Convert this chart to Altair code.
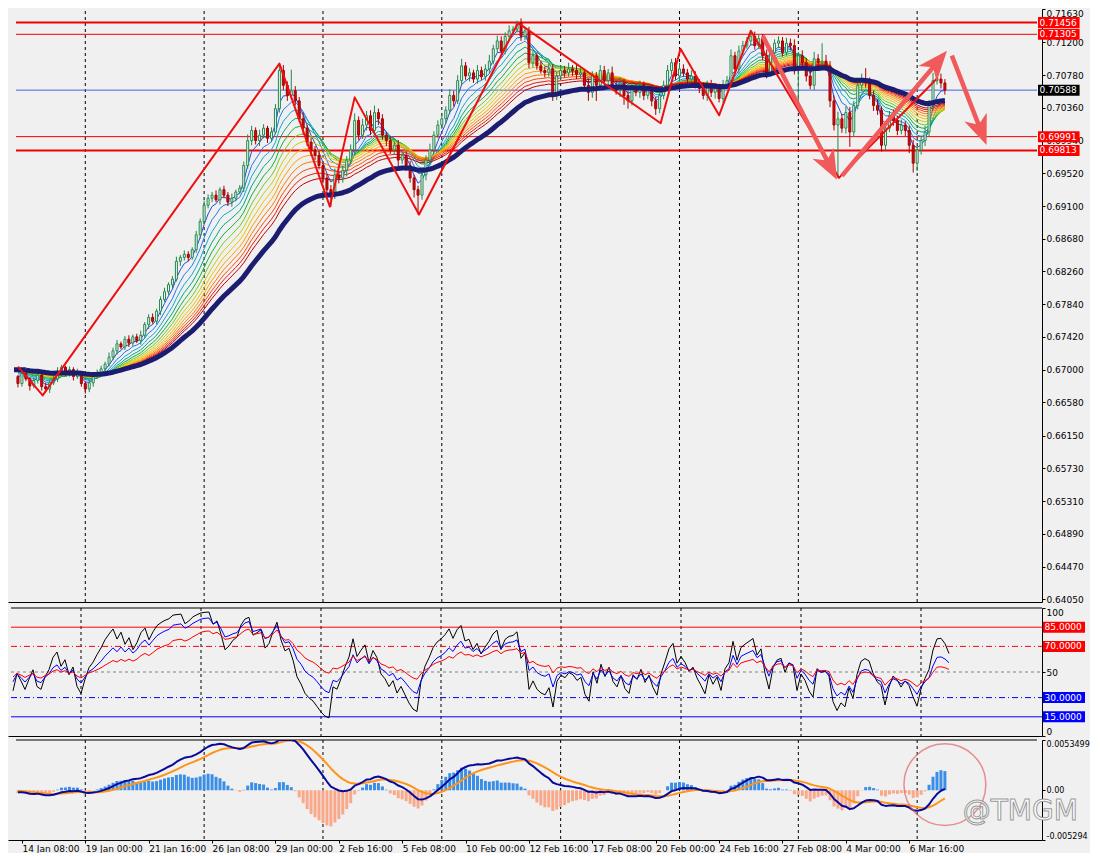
import json
import math
import pandas as pd
import altair as alt

# ---------------- data ----------------
closes = [
    0.6701, 0.6691, 0.6682, 0.6695, 0.6688, 0.6679, 0.6686, 0.6693, 0.6678, 0.6675,
    0.6683, 0.6688, 0.6698, 0.6703, 0.6695, 0.6700, 0.6691, 0.6696, 0.6682, 0.6675,
    0.6683, 0.6691, 0.6695, 0.6701, 0.6707, 0.6716, 0.6724, 0.6733, 0.6729, 0.6739,
    0.6734, 0.6742, 0.6737, 0.6744, 0.6758, 0.6767, 0.6762, 0.6775, 0.6790, 0.6800,
    0.6809, 0.6816, 0.6839, 0.6844, 0.6848, 0.6844, 0.6854, 0.6873, 0.6890, 0.6911,
    0.6920, 0.6924, 0.6918, 0.6931, 0.6924, 0.6915, 0.6920, 0.6928, 0.6933, 0.6962,
    0.6994, 0.7007, 0.6994, 0.7001, 0.7010, 0.6997, 0.7005, 0.7035, 0.7084, 0.7065,
    0.7052, 0.7058, 0.7045, 0.7022, 0.7010, 0.6992, 0.6982, 0.6975, 0.6962, 0.6946,
    0.6931, 0.6924, 0.6950, 0.6946, 0.6956, 0.6969, 0.6982, 0.7020, 0.7001, 0.7014,
    0.7026, 0.7007, 0.7030, 0.7022, 0.7001, 0.6994, 0.6982, 0.6988, 0.6969, 0.6975,
    0.6962, 0.6946, 0.6931, 0.6924, 0.6950, 0.6969, 0.6982, 0.7001, 0.7014, 0.7022,
    0.7033, 0.7052, 0.7045, 0.7071, 0.7090, 0.7077, 0.7081, 0.7073, 0.7084, 0.7076,
    0.7086, 0.7096, 0.7112, 0.7122, 0.7109, 0.7128, 0.7135, 0.7137, 0.7145, 0.7128,
    0.7135, 0.7094, 0.7103, 0.7090, 0.7084, 0.7081, 0.7086, 0.7052, 0.7077, 0.7084,
    0.7081, 0.7086, 0.7084, 0.7079, 0.7081, 0.7065, 0.7056, 0.7077, 0.7065, 0.7084,
    0.7071, 0.7081, 0.7065, 0.7058, 0.7068, 0.7052, 0.7045, 0.7061, 0.7056, 0.7065,
    0.7052, 0.7058, 0.7045, 0.7035, 0.7052, 0.7065, 0.7084, 0.7094, 0.7077, 0.7086,
    0.7081, 0.7073, 0.7077, 0.7068, 0.7061, 0.7052, 0.7065, 0.7056, 0.7061, 0.7048,
    0.7065, 0.7071, 0.7103, 0.7086, 0.7109, 0.7116, 0.7122, 0.7128, 0.7116, 0.7125,
    0.7103, 0.7081, 0.7107, 0.7119, 0.7122, 0.7107, 0.7119, 0.7116, 0.7084, 0.7103,
    0.7094, 0.7077, 0.7065, 0.7099, 0.7094, 0.7096, 0.7090, 0.7045, 0.7014, 0.7022,
    0.7010, 0.7030, 0.7005, 0.7039, 0.7065, 0.7071, 0.7068, 0.7052, 0.7039, 0.7033,
    0.6988, 0.7010, 0.7026, 0.7020, 0.7007, 0.7014, 0.7007, 0.6988, 0.6965, 0.6982,
    0.6994, 0.7005, 0.7039, 0.7071, 0.7073, 0.7068, 0.7059,
]
first_open = 0.6695

upper_wick_pips = [
    3, 4, 2, 5, 3, 2, 4, 3, 2, 5,
    3, 4, 5, 3, 2, 4, 3, 5, 2, 3,
    4, 3, 5, 4, 3, 6, 4, 5, 3, 4,
    5, 3, 4, 6, 3, 4, 5, 3, 4, 5,
    3, 4, 6, 3, 5, 4, 3, 5, 4, 6,
    5, 4, 6, 3, 5, 4, 6, 3, 4, 5,
    8, 6, 4, 7, 5, 3, 6, 6, 9, 7,
    5, 27, 6, 5, 8, 4, 6, 5, 7, 4,
    5, 6, 8, 4, 6, 5, 7, 9, 5, 8,
    6, 7, 9, 5, 6, 4, 6, 5, 7, 4,
    5, 6, 4, 5, 7, 6, 8, 5, 6, 7,
    5, 8, 6, 7, 9, 5, 6, 4, 7, 5,
    6, 8, 5, 7, 6, 5, 7, 4, 3, 6,
    5, 5, 7, 4, 6, 5, 8, 6, 5, 7,
    6, 8, 5, 7, 6, 5, 9, 6, 5, 7,
    6, 5, 8, 6, 7, 5, 6, 7, 5, 6,
    5, 7, 6, 5, 8, 6, 7, 5, 6, 8,
    6, 5, 7, 6, 5, 8, 6, 7, 5, 6,
    7, 6, 8, 5, 7, 6, 5, 7, 6, 5,
    6, 8, 7, 5, 6, 5, 7, 6, 8, 5,
    7, 6, 8, 9, 6, 23, 8, 6, 7, 9,
    6, 8, 7, 6, 5, 9, 16, 7, 6, 8,
    5, 7, 6, 8, 6, 7, 5, 6, 7, 5,
    6, 8, 7, 10, 8, 7, 5,
]
lower_wick_pips = [
    4, 3, 5, 4, 3, 6, 3, 4, 5, 4,
    5, 3, 4, 6, 3, 4, 5, 3, 4, 6,
    4, 5, 3, 4, 6, 3, 4, 5, 3, 4,
    5, 4, 3, 5, 4, 6, 3, 4, 5, 3,
    4, 5, 3, 6, 4, 5, 3, 4, 5, 3,
    4, 5, 3, 6, 4, 5, 6, 4, 3, 5,
    4, 6, 5, 7, 4, 6, 5, 3, 5, 6,
    7, 5, 6, 4, 8, 5, 7, 6, 5, 7,
    6, 15, 5, 7, 6, 8, 5, 7, 6, 5,
    7, 6, 5, 8, 6, 7, 5, 6, 8, 5,
    7, 6, 10, 25, 6, 7, 5, 6, 4, 5,
    6, 5, 7, 4, 6, 5, 7, 5, 6, 4,
    5, 6, 4, 5, 7, 4, 6, 5, 4, 6,
    5, 7, 6, 5, 4, 6, 5, 7, 6, 5,
    6, 5, 7, 6, 5, 6, 11, 7, 20, 6,
    5, 7, 6, 5, 8, 12, 10, 6, 5, 7,
    6, 5, 7, 8, 6, 5, 4, 6, 5, 7,
    5, 6, 4, 7, 6, 5, 7, 6, 8, 5,
    6, 5, 7, 4, 6, 5, 4, 6, 5, 4,
    6, 7, 5, 4, 6, 5, 4, 6, 5, 48,
    6, 7, 5, 6, 5, 4, 6, 8, 7, 68,
    6, 7, 19, 6, 5, 7, 6, 5, 7, 6,
    8, 6, 5, 7, 6, 5, 7, 10, 12, 10,
    6, 7, 5, 6, 5, 7, 6,
]
assert len(closes) == len(upper_wick_pips) == len(lower_wick_pips) == 237

x_label_bars = [3, 19, 35, 51, 67, 83, 99, 115, 131, 147, 163, 179, 195, 211, 227]
x_labels = ["14 Jan 08:00", "19 Jan 00:00", "21 Jan 16:00", "26 Jan 08:00", "29 Jan 00:00",
            "2 Feb 16:00", "5 Feb 08:00", "10 Feb 00:00", "12 Feb 16:00", "17 Feb 08:00",
            "20 Feb 00:00", "24 Feb 16:00", "27 Feb 08:00", "4 Mar 00:00", "6 Mar 16:00"]
week_separator_bars = [19, 49, 79, 109, 139, 169, 199, 229]

price_ticks = [0.71630, 0.71200, 0.70780, 0.70360, 0.69940, 0.69520, 0.69100, 0.68680,
               0.68260, 0.67840, 0.67420, 0.67000, 0.66580, 0.66150, 0.65730, 0.65310,
               0.64890, 0.64470, 0.64050]
red_levels = [0.71456, 0.71305, 0.69991, 0.69813]
bid_price = 0.70588
main_tag_values = [0.71456, 0.71305, 0.70588, 0.69991, 0.69813]

zigzag_bars = [2.0, 8.25, 68, 80.75, 87, 103.25, 128.25, 164.25, 169.25, 179, 187, 209.25, 234.25]
zigzag_prices = [0.67038, 0.66668, 0.70928, 0.69092, 0.70495, 0.68990, 0.71451, 0.70163,
                 0.71120, 0.70265, 0.71349, 0.69462, 0.70750]

arrow_tail_bars = [190.0, 210.0, 237.75]
arrow_tail_prices = [0.71286, 0.69487, 0.71031]
arrow_tip_bars = [208.75, 236.5, 246.5]
arrow_tip_prices = [0.69436, 0.71094, 0.69883]

ribbon_periods = [4, 7, 10, 13, 16, 19, 22, 25, 28, 31, 34, 37, 40]
navy_period = 50
rsi_periods = [6, 12, 24]
rsi_levels = [85, 70, 50, 30, 15]
rsi_tag_values = [85, 70, 30, 15]

macd_axis_values = [-0.005294, 0.0, 0.0053499]
macd_axis_labels = ["-0.005294", "0.00", "0.0053499"]
circle_bar = [236]
circle_value = [0.0006]
watermark_bar = [240.5]
watermark_value = [-0.00234]
watermark_text = ["@TMGM"]

# ---------------- styles ----------------
FONT = "DejaVu Sans"
BG = "#F0F0F0"
RED = "#F00000"
BULL_FILL, BULL_LINE = "#F4F4F4", "#1F8A4C"
BEAR_FILL, BEAR_LINE = "#C41010", "#A80000"
RIBBON_COLORS = ["#2848E0", "#1E78F0", "#10A8D0", "#00A878", "#10B030", "#70C820",
                 "#C8D000", "#F0C000", "#FFA000", "#FF7800", "#FF4A00", "#E81A10", "#C00000"]
NAVY = "#1C1C70"
NAVY_WIDTH = 5
ARROW_COLOR = "#F05A5A"
ARROW_PATH = "M0,-1L0.8,1L0,0.45L-0.8,1Z"
red_level_widths = [2, 1, 1, 2]
main_tag_colors = ["#FF0000", "#FF0000", "#000000", "#FF0000", "#FF0000"]
rsi_tag_colors = ["#FF0000", "#FF0000", "#0000FF", "#0000FF"]
rsi_level_styles = [("#FF0000", []), ("#FF0000", [6, 3, 1, 3]), ("#808080", [3, 3]),
                    ("#0000FF", [6, 3, 1, 3]), ("#0000FF", [])]
RSI_COLORS = ["#000000", "#0000FF", "#FF0000"]

X_DOMAIN = [0.75, 259.25]
PX_PER_BAR = 4.0
W = int(round((X_DOMAIN[1] - X_DOMAIN[0]) * PX_PER_BAR))
H_MAIN, H_RSI, H_MACD = 593, 128, 100
MAIN_DOMAIN = [0.64015, 0.7163]
RSI_DOMAIN = [0, 100]
MACD_DOMAIN = [-0.005294, 0.0053499]
PX_PER_PRICE = H_MAIN / (MAIN_DOMAIN[1] - MAIN_DOMAIN[0])
TAG_X1, TAG_X2, TAG_TX = 259.5, 270.0, 259.9
FIRST_SHOWN = 2
NAVY_LINE_FROM = 4
RULE_X1 = X_DOMAIN[0] + 0.75          # keep full-width rules inside the plot box

# ---------------- derived tables ----------------
n = len(closes)
bars = list(range(n))
opens = [first_open] + closes[:-1]
rows = []
for i in range(n):
    o, c = opens[i], closes[i]
    rows.append(dict(bar=i, low=min(o, c) - lower_wick_pips[i] * 0.0001,
                     high=max(o, c) + upper_wick_pips[i] * 0.0001,
                     body_lo=min(o, c), body_hi=max(o, c),
                     kind="bull" if c >= o else "bear"))
candles = pd.DataFrame(rows)
candles = candles[candles["bar"] >= FIRST_SHOWN]
bull = candles[candles["kind"] == "bull"]
bear = candles[candles["kind"] == "bear"]

s = pd.Series(closes, dtype=float)
ema = {p: s.ewm(span=p, adjust=False).mean() for p in ribbon_periods + [navy_period, 12, 26]}


def wilder_rsi(values, period, seed=0.0005):
    ag = al = seed
    out = [50.0]
    for k in range(1, len(values)):
        d = values[k] - values[k - 1]
        ag = (ag * (period - 1) + max(d, 0.0)) / period
        al = (al * (period - 1) + max(-d, 0.0)) / period
        out.append(100.0 * ag / (ag + al))
    return out


def shown(df, first=FIRST_SHOWN):
    return df[df["bar"] >= first]


dif = ema[12] - ema[26]
dea = dif.ewm(span=9, adjust=False).mean()
hist_vals = 2 * (dif - dea)
macd_df = shown(pd.DataFrame({"bar": bars, "dif": dif.values, "dea": dea.values, "hv": hist_vals.values}))

arrow_rows, head_rows = [], []
HEAD = 30.0
for k in range(len(arrow_tail_bars)):
    tb, tp = arrow_tail_bars[k], arrow_tail_prices[k]
    hb, hp = arrow_tip_bars[k], arrow_tip_prices[k]
    dx = (hb - tb) * PX_PER_BAR
    dy = -(hp - tp) * PX_PER_PRICE
    L = math.hypot(dx, dy)
    ux, uy = dx / L, dy / L
    cb = hb - ux * HEAD / 2 / PX_PER_BAR
    cp = hp + uy * HEAD / 2 / PX_PER_PRICE
    ang = math.degrees(math.atan2(dx, -dy)) % 360
    arrow_rows += [dict(arrow=k, order=0, bar=tb, price=tp), dict(arrow=k, order=1, bar=cb, price=cp)]
    head_rows.append(dict(bar=cb, price=cp, angle=ang))
arrows_df = pd.DataFrame(arrow_rows)
heads_df = pd.DataFrame(head_rows)

# ---------------- scales / axes ----------------
XS = alt.Scale(domain=X_DOMAIN, nice=False, zero=False)
AX_NONE = alt.Axis(labels=False, ticks=False, grid=False, title=None, domain=True,
                   domainColor="black", domainWidth=1)
label_expr = "%s[round((datum.value - 3) / 16)]" % json.dumps(x_labels)
AX_TIME = alt.Axis(values=x_label_bars, labelExpr=label_expr, labelAlign="left", labelPadding=1,
                   tickSize=3, grid=False, title=None, domainColor="black", tickColor="black",
                   labelOverlap=False, labelFont=FONT, labelFontSize=9, labelColor="black")


def yaxis(values, size=9, **kw):
    return alt.Axis(orient="right", values=values, tickSize=3, labelPadding=1, labelOverlap=False,
                    grid=False, title=None, domainColor="black", tickColor="black",
                    labelFont=FONT, labelFontSize=size, labelColor="black", **kw)


YS_MAIN = alt.Scale(domain=MAIN_DOMAIN, nice=False, zero=False, clamp=True)
AY_MAIN = yaxis(price_ticks, format=".5f", labelFlush=True)
YS_RSI = alt.Scale(domain=RSI_DOMAIN, nice=False, zero=False, clamp=True)
AY_RSI = yaxis([0, 50, 100], format="d", labelFlush=True)
YS_MACD = alt.Scale(domain=MACD_DOMAIN, nice=False, zero=False, clamp=True)
macd_expr = "datum.value > 0.001 ? '%s' : (datum.value < -0.001 ? '%s' : '%s')" % (
    macd_axis_labels[2], macd_axis_labels[0], macd_axis_labels[1])
AY_MACD = yaxis(macd_axis_values, size=8, labelExpr=macd_expr, labelFlush=True)


def X(field, axis):
    return alt.X(field, type="quantitative", scale=XS, axis=axis)


def Y(field, scale, axis):
    return alt.Y(field, type="quantitative", scale=scale, axis=axis)


def hrules(values, scale, axis, xaxis, **mark_kw):
    df = pd.DataFrame({"v": values, "x1": RULE_X1, "x2": X_DOMAIN[1]})
    return alt.Chart(df).mark_rule(**mark_kw).encode(
        x=X("x1", xaxis), x2="x2", y=Y("v", scale, axis))


def separators(axis, scale=None, yaxis_=None, y_lo=None, y_hi=None):
    if scale is None:
        df = pd.DataFrame({"bar": week_separator_bars})
        return alt.Chart(df).mark_rule(color="black", strokeDash=[3, 3], strokeWidth=1).encode(
            x=X("bar", axis))
    df = pd.DataFrame({"bar": week_separator_bars, "lo": y_lo, "hi": y_hi})
    return alt.Chart(df).mark_rule(color="black", strokeDash=[3, 3], strokeWidth=1).encode(
        x=X("bar", axis), y=Y("lo", scale, yaxis_), y2="hi")


def tags(values, labels, colors, scale, axis, half, xaxis):
    df = pd.DataFrame({"v": values, "lo": [v - half for v in values], "hi": [v + half for v in values],
                       "label": labels, "c": colors, "x1": TAG_X1, "x2": TAG_X2, "tx": TAG_TX})
    rect = alt.Chart(df).mark_rect().encode(
        x=X("x1", xaxis), x2="x2", y=Y("lo", scale, axis), y2="hi",
        color=alt.Color("c:N", scale=None, legend=None))
    text = alt.Chart(df).mark_text(align="left", baseline="middle", font=FONT, fontSize=9,
                                   color="white").encode(
        x=X("tx", xaxis), y=Y("v", scale, axis), text="label:N")
    return [rect, text]


def line(df, field, color, width, scale, axis, xaxis, clip=True):
    return alt.Chart(df).mark_line(color=color, strokeWidth=width, strokeJoin="round",
                                   clip=clip).encode(x=X("bar", xaxis), y=Y(field, scale, axis))


# ---------------- main price panel ----------------
main_layers = [separators(AX_NONE, YS_MAIN, AY_MAIN, MAIN_DOMAIN[0],
                          MAIN_DOMAIN[1] - 1.5 / PX_PER_PRICE)]
main_layers.append(hrules([bid_price], YS_MAIN, AY_MAIN, AX_NONE, color="#4A63E0", strokeWidth=1))
for lvl, w in zip(red_levels, red_level_widths):
    main_layers.append(hrules([lvl], YS_MAIN, AY_MAIN, AX_NONE, color=RED, strokeWidth=w))
for p, col in zip(ribbon_periods, RIBBON_COLORS):
    df = shown(pd.DataFrame({"bar": bars, "value": ema[p].values}))
    main_layers.append(line(df, "value", col, 1, YS_MAIN, AY_MAIN, AX_NONE))
for df, lc in ((bull, BULL_LINE), (bear, BEAR_LINE)):
    main_layers.append(alt.Chart(df).mark_rule(color=lc, strokeWidth=1, clip=True).encode(
        x=X("bar", AX_NONE), y=Y("low", YS_MAIN, AY_MAIN), y2="high"))
for df, fill, lc in ((bull, BULL_FILL, BULL_LINE), (bear, BEAR_FILL, BEAR_LINE)):
    main_layers.append(alt.Chart(df).mark_bar(size=2, fill=fill, stroke=lc, strokeWidth=1,
                                              clip=True).encode(
        x=X("bar", AX_NONE), y=Y("body_lo", YS_MAIN, AY_MAIN), y2="body_hi"))
navy_vals = ema[navy_period].values
# the first bars of the slow average drawn as a filled band (a wide stroke there would
# push the whole page box to the left)
head_mid = sum(navy_vals[k] for k in range(FIRST_SHOWN, NAVY_LINE_FROM + 1)) / (NAVY_LINE_FROM + 1 - FIRST_SHOWN)
navy_head = pd.DataFrame({"b1": [X_DOMAIN[0] + 0.25], "b2": [NAVY_LINE_FROM],
                          "lo": [head_mid - NAVY_WIDTH / 2 / PX_PER_PRICE],
                          "hi": [head_mid + NAVY_WIDTH / 2 / PX_PER_PRICE]})
main_layers.append(alt.Chart(navy_head).mark_rect(color=NAVY).encode(
    x=X("b1", AX_NONE), x2="b2", y=Y("lo", YS_MAIN, AY_MAIN), y2="hi"))
navy_df = shown(pd.DataFrame({"bar": bars, "value": navy_vals}), NAVY_LINE_FROM)
main_layers.append(line(navy_df, "value", NAVY, NAVY_WIDTH, YS_MAIN, AY_MAIN, AX_NONE))
zz = pd.DataFrame({"bar": zigzag_bars, "price": zigzag_prices, "order": range(len(zigzag_bars))})
main_layers.append(alt.Chart(zz).mark_line(color="#EE1010", strokeWidth=2, strokeJoin="round",
                                           clip=True).encode(
    x=X("bar", AX_NONE), y=Y("price", YS_MAIN, AY_MAIN), order="order:Q"))
main_layers.append(alt.Chart(arrows_df).mark_line(color=ARROW_COLOR, strokeWidth=4.5,
                                                  strokeJoin="round").encode(
    x=X("bar", AX_NONE), y=Y("price", YS_MAIN, AY_MAIN), detail="arrow:N", order="order:Q"))
main_layers.append(alt.Chart(heads_df).mark_point(shape=ARROW_PATH, size=HEAD * HEAD, filled=True,
                                                   color=ARROW_COLOR, opacity=1).encode(
    x=X("bar", AX_NONE), y=Y("price", YS_MAIN, AY_MAIN), angle=alt.Angle("angle:Q", scale=None)))
main_layers += tags(main_tag_values, ["%.5f" % v for v in main_tag_values], main_tag_colors,
                    YS_MAIN, AY_MAIN, 5.5 / PX_PER_PRICE, AX_NONE)
main = alt.layer(*main_layers).properties(width=W, height=H_MAIN)

# ---------------- RSI panel ----------------
rsi_half = 5.5 / (H_RSI / 100.0)
rsi_layers = [separators(AX_NONE)]
rsi_layers.append(hrules([RSI_DOMAIN[1]], YS_RSI, AY_RSI, AX_NONE, color="black", strokeWidth=1))
for lvl, (col, dash) in zip(rsi_levels, rsi_level_styles):
    kw = dict(color=col, strokeWidth=1)
    if dash:
        kw["strokeDash"] = dash
    rsi_layers.append(hrules([lvl], YS_RSI, AY_RSI, AX_NONE, **kw))
for per, col in zip(rsi_periods, RSI_COLORS):
    df = shown(pd.DataFrame({"bar": bars, "rsi": wilder_rsi(closes, per)}))
    rsi_layers.append(line(df, "rsi", col, 1, YS_RSI, AY_RSI, AX_NONE))
rsi_layers += tags(rsi_tag_values, ["%.4f" % v for v in rsi_tag_values], rsi_tag_colors,
                   YS_RSI, AY_RSI, rsi_half, AX_NONE)
rsi = alt.layer(*rsi_layers).properties(width=W, height=H_RSI)

# ---------------- MACD panel ----------------
macd_layers = [separators(AX_TIME)]
macd_layers.append(hrules([MACD_DOMAIN[1]], YS_MACD, AY_MACD, AX_TIME, color="black", strokeWidth=1))
pos = macd_df[macd_df["hv"] >= 0]
neg = macd_df[macd_df["hv"] < 0]
for df, col in ((pos, "#3A8EE6"), (neg, "#F9A88A")):
    macd_layers.append(alt.Chart(df).mark_bar(size=3, color=col, clip=True).encode(
        x=X("bar", AX_TIME), y=Y("hv", YS_MACD, AY_MACD), y2=alt.datum(0.0)))
macd_layers.append(line(macd_df, "dea", "#FF9418", 2, YS_MACD, AY_MACD, AX_TIME))
macd_layers.append(line(macd_df, "dif", "#0A0A9A", 2, YS_MACD, AY_MACD, AX_TIME))
macd_layers.append(alt.Chart(pd.DataFrame({"bar": circle_bar, "v": circle_value})).mark_point(
    shape="circle", size=6700, filled=False, color="#E46464", strokeWidth=1.5).encode(
    x=X("bar", AX_TIME), y=Y("v", YS_MACD, AY_MACD)))
macd_layers.append(alt.Chart(pd.DataFrame({"bar": watermark_bar, "v": watermark_value,
                                           "t": watermark_text})).mark_text(
    align="left", baseline="middle", font=FONT, fontSize=28, fill="white", stroke="#9A9A9A",
    strokeWidth=1).encode(x=X("bar", AX_TIME), y=Y("v", YS_MACD, AY_MACD), text="t:N"))
macd = alt.layer(*macd_layers).properties(width=W, height=H_MACD)

chart = alt.vconcat(main, rsi, macd, spacing=2).properties(padding=0).configure(
    background=BG).configure_view(stroke=None, fill=BG)

chart.save("out.html", embed_options={"renderer": "svg", "actions": False})
